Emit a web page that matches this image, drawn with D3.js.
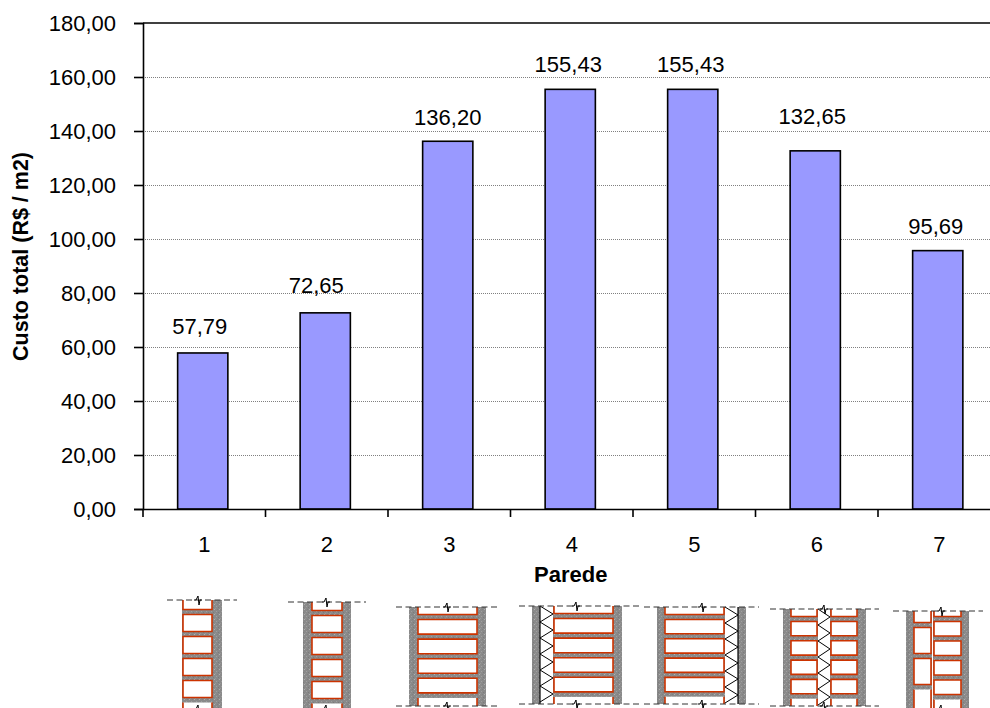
<!DOCTYPE html>
<html>
<head>
<style>
body { margin: 0; background: white; overflow: hidden; }
text { font-family: "Liberation Sans", Arial, sans-serif; fill: black; }
.grid line { stroke: #808080; stroke-width: 1; stroke-dasharray: 1 1; }
.bar { fill: #9999ff; stroke: black; stroke-width: 1.6; }
</style>
</head>
<body>
<div id="chart"></div>
<script src="https://cdn.jsdelivr.net/npm/d3@7"></script>
<script>
const paredes = ['1', '2', '3', '4', '5', '6', '7'];
const custos = [57.79, 72.65, 136.20, 155.43, 155.43, 132.65, 95.69];
const yTicks = [0, 20, 40, 60, 80, 100, 120, 140, 160, 180];

// labels were moved by hand in the original chart
const labelDx = [-3, -9, 0, -2, -2, -3, -2];
const labelGap = [19, 20, 16, 17, 17, 27, 17];

// wall sketches under the chart, in pixels of the picture
const sketches = [
  { top: 600, bottom: 709, dash: [167, 237], mid: 198, plaster: [[213, 222]], insul: [],
    leaves: [{ x: [182, 213], first: 612, step: 22 }] },
  { top: 602, bottom: 709, dash: [288, 366], mid: 326, plaster: [[303, 311], [343, 351]], insul: [],
    leaves: [{ x: [311, 343], first: 613, step: 22 }] },
  { top: 607, bottom: 706, dash: [396, 499], mid: 447, plaster: [[409, 417], [478, 486]], insul: [],
    leaves: [{ x: [417, 478], first: 617, step: 19.6 }] },
  { top: 606, bottom: 704, dash: [519, 640], mid: 576, plaster: [[532, 540], [614, 622]], insul: [{ x: [540, 553], edge: 540 }],
    leaves: [{ x: [553, 614], first: 616, step: 19.6 }] },
  { top: 607, bottom: 704, dash: [644, 759], mid: 702, plaster: [[657, 664], [738, 746]], insul: [{ x: [725, 738], edge: 738 }],
    leaves: [{ x: [664, 725], first: 617, step: 19.3 }] },
  { top: 609, bottom: 706, dash: [770, 879], mid: 824, plaster: [[783, 790], [858, 866]], insul: [{ x: [818, 830] }],
    leaves: [{ x: [790, 818], first: 619, step: 19.3 }, { x: [830, 858], first: 619, step: 19.3 }] },
  { top: 611, bottom: 709, dash: [893, 983], mid: 941, plaster: [[906, 913], [962, 969]], insul: [],
    leaves: [{ x: [913, 932], first: 625, step: 31 }, { x: [933, 962], first: 619, step: 19.5 }] }
];

const width = 990, height = 708;
const margin = { top: 23, bottom: 199, left: 143 };
const step = 122.5;
const plotRight = margin.left + step * paredes.length; // runs past the edge of the picture

const svg = d3.select('#chart').append('svg')
  .attr('width', width)
  .attr('height', height);

const xOuter = d3.scaleBand().domain(paredes).range([margin.left, plotRight]);
const x = d3.scaleBand().domain(paredes).range([margin.left - 1.5, plotRight - 1.5]).paddingInner(0.59).paddingOuter(0.295);
const y = d3.scaleLinear().domain([0, 180]).range([height - margin.bottom, margin.top]);
const fmt = d => d.toFixed(2).replace('.', ',');

// grid
svg.append('g').attr('class', 'grid')
  .selectAll('line').data(yTicks.filter(d => d > 0 && d < 180)).join('line')
  .attr('x1', margin.left).attr('x2', plotRight)
  .attr('y1', d => Math.round(y(d)) + 0.5).attr('y2', d => Math.round(y(d)) + 0.5);

// top border
svg.append('line')
  .attr('x1', margin.left).attr('x2', plotRight)
  .attr('y1', y(180)).attr('y2', y(180))
  .attr('stroke', 'black').attr('stroke-width', 1.6);

// bars
svg.selectAll('.bar').data(custos).join('rect')
  .attr('class', 'bar')
  .attr('x', (d, i) => x(paredes[i]))
  .attr('width', x.bandwidth())
  .attr('y', d => y(d))
  .attr('height', d => y(0) - y(d));

// value labels
svg.selectAll('.valor').data(custos).join('text')
  .attr('class', 'valor')
  .attr('x', (d, i) => x(paredes[i]) + x.bandwidth() / 2 + labelDx[i])
  .attr('y', (d, i) => y(d) - labelGap[i])
  .attr('text-anchor', 'middle')
  .attr('font-size', 22)
  .text(fmt);

// y axis
const yAxis = svg.append('g')
  .attr('transform', `translate(${margin.left},0)`)
  .call(d3.axisLeft(y).tickValues(yTicks).tickFormat(fmt).tickSize(9).tickPadding(18));
yAxis.selectAll('text').attr('font-size', 22).style('font-family', '"Liberation Sans", Arial, sans-serif');
yAxis.selectAll('line').attr('stroke-width', 1.6);
yAxis.select('.domain').attr('stroke-width', 1.6);

// x axis, ticks between the categories
const xAxis = svg.append('g')
  .attr('transform', `translate(0,${y(0)})`)
  .call(d3.axisBottom(xOuter).tickSize(0).tickPadding(27));
xAxis.selectAll('text').attr('font-size', 22).style('font-family', '"Liberation Sans", Arial, sans-serif');
xAxis.select('.domain').attr('stroke-width', 1.6);
xAxis.selectAll('.sep').data(d3.range(paredes.length + 1)).join('line')
  .attr('class', 'sep')
  .attr('x1', i => margin.left + i * xOuter.step())
  .attr('x2', i => margin.left + i * xOuter.step())
  .attr('y1', 0).attr('y2', 8)
  .attr('stroke', 'black').attr('stroke-width', 1.6);

// axis titles
svg.append('text')
  .attr('transform', 'translate(28,256.5) rotate(-90)')
  .attr('text-anchor', 'middle')
  .attr('font-size', 21.5).attr('font-weight', 'bold')
  .text('Custo total (R$ / m2)');
svg.append('text')
  .attr('x', (margin.left + plotRight) / 2 - 1)
  .attr('y', 582)
  .attr('text-anchor', 'middle')
  .attr('font-size', 22).attr('font-weight', 'bold')
  .text('Parede');

// speckled mortar
const speckle = svg.append('defs').append('pattern')
  .attr('id', 'reboco').attr('width', 5).attr('height', 5).attr('patternUnits', 'userSpaceOnUse');
speckle.append('rect').attr('width', 5).attr('height', 5).attr('fill', '#8a8a8a');
[[1, 1, '#a0a0a0'], [3, 2, '#7a7a7a'], [0, 3, '#989898'], [4, 4, '#b0b0b0'], [2, 4, '#808080']].forEach(p => {
  speckle.append('rect').attr('x', p[0]).attr('y', p[1]).attr('width', 1).attr('height', 1).attr('fill', p[2]);
});

function mortar(g, x0, x1, y0, y1) {
  g.append('rect').attr('x', x0).attr('y', y0).attr('width', x1 - x0).attr('height', y1 - y0)
    .attr('fill', 'url(#reboco)');
}
function brick(g, x0, x1, y0, y1, openTop, openBottom) {
  g.append('rect').attr('x', x0).attr('y', y0).attr('width', x1 - x0).attr('height', y1 - y0).attr('fill', 'white');
  const p = `M${x0} ${y0}V${y1}` + (openBottom ? `M${x1} ${y1}` : `H${x1}`) + `V${y0}` + (openTop ? '' : 'Z');
  g.append('path').attr('d', p).attr('fill', 'none').attr('stroke', '#cc3300').attr('stroke-width', 1.6);
}
function zigzag(g, ins, top, bottom) {
  const pts = [];
  let i = 0;
  for (let yy = top; yy <= bottom; yy += 8) pts.push([ins.x[i++ % 2], yy]);
  g.append('path').attr('d', d3.line()(pts)).attr('fill', 'none').attr('stroke', 'black').attr('stroke-width', 1);
  if (ins.edge) g.append('path').attr('d', `M${ins.edge} ${top}V${bottom}`).attr('stroke', 'black').attr('stroke-width', 1.2);
}
function cutLine(g, s, yy) {
  g.append('line').attr('x1', s.dash[0]).attr('x2', s.dash[1]).attr('y1', yy).attr('y2', yy)
    .attr('stroke', '#333').attr('stroke-width', 1).attr('stroke-dasharray', '6 3.5');
  g.append('path').attr('d', `M${s.mid - 4} ${yy}h2l2 -4l1 9l1 -5h2`).attr('fill', 'none').attr('stroke', 'black');
}

const sk = svg.append('g').attr('class', 'sketches');
sketches.forEach(s => {
  const g = sk.append('g');
  s.plaster.forEach(p => mortar(g, p[0], p[1], s.top, s.bottom));
  s.leaves.forEach(l => {
    const [x0, x1] = l.x;
    mortar(g, x0, x1, s.top, s.bottom);
    brick(g, x0 + 1, x1 - 1, s.top, l.first - 2.5, true, false);
    for (let j = l.first; j < s.bottom; j += l.step) {
      const end = j + l.step - 2.5;
      brick(g, x0 + 1, x1 - 1, j + 2.5, Math.min(end, s.bottom), false, end >= s.bottom);
    }
  });
  s.insul.forEach(ins => zigzag(g, ins, s.top, s.bottom));
  cutLine(g, s, s.top);
  cutLine(g, s, s.bottom);
});
</script>
</body>
</html>
